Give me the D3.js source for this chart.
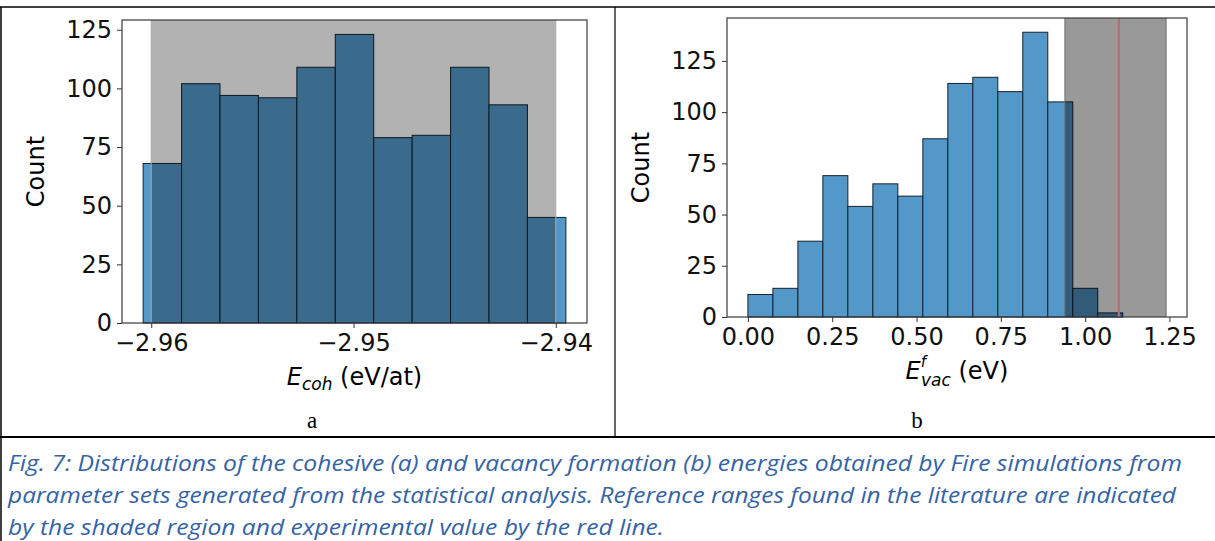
<!DOCTYPE html>
<html>
<head>
<meta charset="utf-8">
<script src="https://cdn.jsdelivr.net/npm/d3@7"></script>
<style>
  body { margin: 0; background: #fff; }
  svg { display: block; }
  .tick line { stroke: #333; }
</style>
</head>
<body>
<svg id="fig" width="1215" height="541"></svg>
<script>
// panel a : cohesive energy
const cohEdges = [-2.9604, -2.9585, -2.9566, -2.9547, -2.9528, -2.9509, -2.9490,
  -2.9471, -2.9452, -2.9433, -2.9414, -2.9395]
const cohCounts = [68, 102, 97, 96, 109, 123, 79, 80, 109, 93, 45]
const cohTicks = [-2.96, -2.95, -2.94]
const cohRange = [-2.96, -2.94]

// panel b : vacancy formation energy
const vacEdges = [0, 0.0741, 0.1482, 0.2223, 0.2964, 0.3705, 0.4446, 0.5187, 0.5928,
  0.6669, 0.7410, 0.8151, 0.8892, 0.9633, 1.0374, 1.1115]
const vacCounts = [11, 14, 37, 69, 54, 65, 59, 87, 114, 117, 110, 139, 105, 14, 2]
const vacTicks = [0, 0.25, 0.5, 0.75, 1, 1.25]
const vacRange = [0.94, 1.24]
const vacExperiment = 1.10

const countTicks = [0, 25, 50, 75, 100, 125]

const captionLines = [
  'Fig.  7: Distributions of the cohesive (a) and vacancy formation (b) energies obtained by Fire simulations from',
  'parameter sets generated from the statistical analysis. Reference ranges found in the literature are indicated',
  'by the shaded region and experimental value by the red line.'
]

const svg = d3.select('#fig')
svg.append('rect').attr('width', 1215).attr('height', 541).attr('fill', '#fff')

/**
 * Draws one histogram panel with its shaded reference range.
 *
 * @param {object} p The panel description
 */
function drawPanel (p) {
  const lo = d3.min([p.edges[0], p.range[0]])
  const hi = d3.max([p.edges[p.edges.length - 1], p.range[1]])
  const pad = (hi - lo) * 0.05
  const x = d3.scaleLinear().domain([lo - pad, hi + pad]).range([p.x0, p.x1])
  const y = d3.scaleLinear().domain([0, d3.max(p.counts) * 1.05]).range([p.y1, p.y0])
  const g = svg.append('g')

  g.selectAll('rect.bar')
    .data(p.counts)
    .enter()
    .append('rect')
    .attr('class', 'bar')
    .attr('x', (d, i) => x(p.edges[i]))
    .attr('width', (d, i) => x(p.edges[i + 1]) - x(p.edges[i]))
    .attr('y', d => y(d))
    .attr('height', d => y(0) - y(d))
    .style('fill', '#5398c9')
    .style('stroke', '#15222e')
    .style('stroke-width', 1)

  // reference range, darkens whatever is under it
  g.append('rect')
    .attr('x', x(p.range[0]))
    .attr('width', x(p.range[1]) - x(p.range[0]))
    .attr('y', p.y0)
    .attr('height', p.y1 - p.y0)
    .style('fill', 'black')
    .style('opacity', p.shade)
  g.selectAll('line.edge')
    .data(p.range)
    .enter()
    .append('line')
    .attr('x1', d => x(d)).attr('x2', d => x(d))
    .attr('y1', p.y0).attr('y2', p.y1)
    .style('stroke', p.edgeColor)
    .style('stroke-width', 1)

  if (p.experiment !== undefined) {
    g.append('line')
      .attr('x1', x(p.experiment)).attr('x2', x(p.experiment))
      .attr('y1', p.y0).attr('y2', p.y1)
      .style('stroke', '#bb6b76')
      .style('stroke-width', 2.2)
  }

  g.append('g')
    .attr('transform', `translate(0,${p.y1})`)
    .call(d3.axisBottom(x).tickValues(p.ticks).tickFormat(d3.format('.2f')).tickSize(5).tickPadding(6))
    .call(a => a.select('.domain').remove())
  g.append('g')
    .attr('transform', `translate(${p.x0},0)`)
    .call(d3.axisLeft(y).tickValues(countTicks).tickSize(5).tickPadding(5))
    .call(a => a.select('.domain').remove())
  g.selectAll('.tick text')
    .style('font-family', "'DejaVu Sans', sans-serif")
    .style('font-size', '24px')
    .style('fill', '#111')

  g.append('rect')
    .attr('x', p.x0).attr('y', p.y0)
    .attr('width', p.x1 - p.x0).attr('height', p.y1 - p.y0)
    .style('fill', 'none')
    .style('stroke', '#3a3a3a')
    .style('stroke-width', 1.2)

  g.append('text')
    .attr('transform', `translate(${p.x0 - 78},${(p.y0 + p.y1) / 2}) rotate(-90)`)
    .attr('text-anchor', 'middle')
    .style('font-family', "'DejaVu Sans', sans-serif")
    .style('font-size', '24px')
    .text('Count')

  const lab = g.append('text')
    .attr('x', (p.x0 + p.x1) / 2)
    .attr('y', p.y1 + 62)
    .attr('text-anchor', 'middle')
    .style('font-family', "'DejaVu Sans', sans-serif")
    .style('font-size', '24px')
  p.label(lab)

  svg.append('text')
    .attr('x', p.letterX)
    .attr('y', 428)
    .attr('text-anchor', 'middle')
    .style('font-family', "'Liberation Serif', 'Times New Roman', serif")
    .style('font-size', '23px')
    .text(p.letter)
}

drawPanel({
  edges: cohEdges,
  counts: cohCounts,
  ticks: cohTicks,
  range: cohRange,
  shade: 0.3,
  edgeColor: '#a8a8a8',
  x0: 122, x1: 587, y0: 20, y1: 323,
  letter: 'a', letterX: 312,
  label: t => {
    t.append('tspan').style('font-style', 'italic').text('E')
    t.append('tspan').style('font-style', 'italic').style('font-size', '17px').attr('dy', 5).text('coh')
    t.append('tspan').attr('dy', -5).text(' (eV/at)')
  }
})

drawPanel({
  edges: vacEdges,
  counts: vacCounts,
  ticks: vacTicks,
  range: vacRange,
  experiment: vacExperiment,
  shade: 0.4,
  edgeColor: '#6c6c6c',
  x0: 727, x1: 1187, y0: 18, y1: 317,
  letter: 'b', letterX: 917,
  label: t => {
    t.append('tspan').style('font-style', 'italic').text('E')
    t.append('tspan').style('font-style', 'italic').style('font-size', '15px').attr('dy', -12).text('f')
    t.append('tspan').style('font-style', 'italic').style('font-size', '17px').attr('dx', -5).attr('dy', 19).text('vac')
    t.append('tspan').attr('dy', -7).text(' (eV)')
  }
})

// table borders
const borders = [
  [0, 7, 1215, 7, 1.5],
  [1, 7, 1, 541, 1.5],
  [615, 7, 615, 437, 1.2],
  [0, 437, 1215, 437, 2]
]
svg.selectAll('line.border')
  .data(borders)
  .enter()
  .append('line')
  .attr('x1', d => d[0]).attr('y1', d => d[1])
  .attr('x2', d => d[2]).attr('y2', d => d[3])
  .style('stroke', '#000')
  .style('stroke-width', d => d[4])

// caption
const captionWidths = [1174, 1168, 656]
svg.selectAll('text.caption')
  .data(captionLines)
  .enter()
  .append('text')
  .attr('x', 8)
  .attr('y', (d, i) => 471 + i * 32)
  .attr('textLength', (d, i) => captionWidths[i])
  .attr('lengthAdjust', 'spacingAndGlyphs')
  .style('font-family', "'Liberation Sans Narrow', 'Open Sans', sans-serif")
  .style('font-style', 'italic')
  .style('font-size', '22px')
  .style('fill', '#3563a4')
  .text(d => d)
</script>
</body>
</html>
